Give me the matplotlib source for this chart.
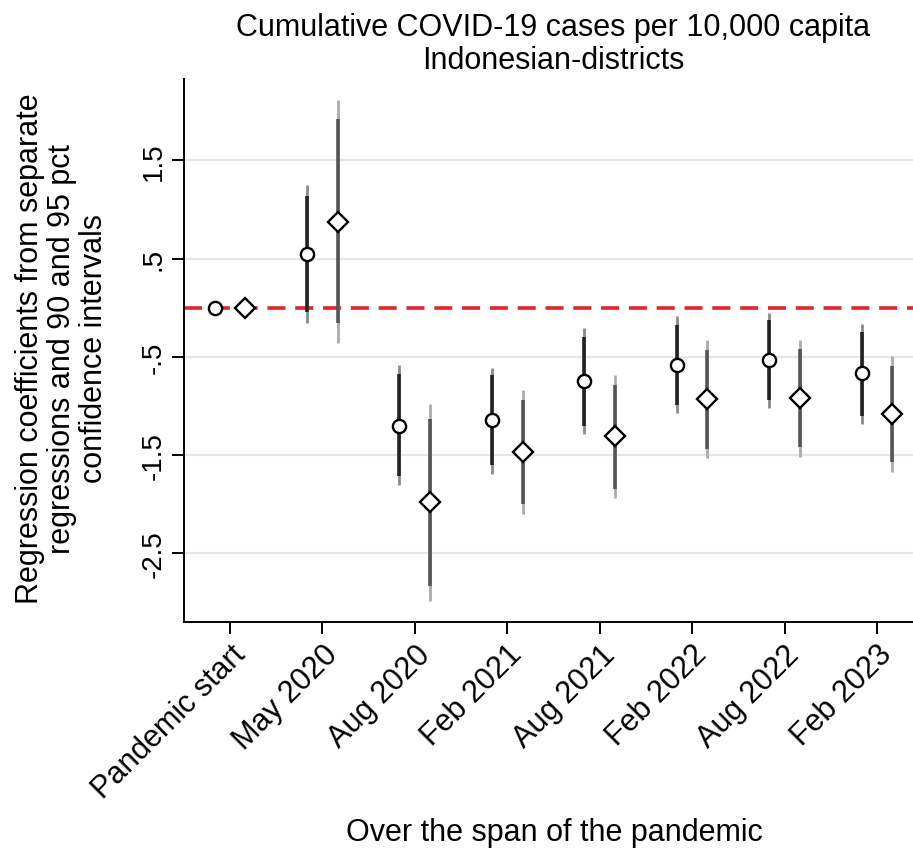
import numpy as np
import matplotlib.pyplot as plt

plt.rcParams['font.family'] = ['Liberation Sans', 'DejaVu Sans']

# --- data ---
periods = ['Pandemic start', 'May 2020', 'Aug 2020', 'Feb 2021',
           'Aug 2021', 'Feb 2022', 'Aug 2022', 'Feb 2023']

# series A (circles)
coef_a = [0.0, 0.55, -1.20, -1.14, -0.75, -0.58, -0.53, -0.67]
a90_lo = [np.nan, -0.04, -1.71, -1.60, -1.20, -0.99, -0.94, -1.10]
a90_hi = [np.nan, 1.14, -0.68, -0.69, -0.30, -0.18, -0.13, -0.25]
a95_lo = [np.nan, -0.16, -1.81, -1.69, -1.29, -1.07, -1.02, -1.18]
a95_hi = [np.nan, 1.25, -0.58, -0.61, -0.21, -0.09, -0.05, -0.17]

# series B (diamonds)
coef_b = [0.0, 0.87, -1.98, -1.47, -1.31, -0.93, -0.92, -1.08]
b90_lo = [np.nan, -0.16, -2.83, -2.00, -1.85, -1.44, -1.42, -1.57]
b90_hi = [np.nan, 1.92, -1.13, -0.94, -0.79, -0.43, -0.42, -0.59]
b95_lo = [np.nan, -0.36, -2.99, -2.10, -1.94, -1.53, -1.52, -1.67]
b95_hi = [np.nan, 2.11, -0.98, -0.84, -0.69, -0.33, -0.33, -0.49]

yticks = [1.5, 0.5, -0.5, -1.5, -2.5]
ytick_labels = ['1.5', '.5', '-.5', '-1.5', '-2.5']

# --- figure ---
fig = plt.figure(figsize=(9.13, 8.53), dpi=100)
ax = fig.add_axes([0.2015, 0.270, 0.7985, 0.636])

x = np.arange(len(periods))
off = 0.166

for yv in yticks:
    ax.axhline(yv, color='#e6e6e6', lw=1.6, zorder=0)
ax.axhline(0, color='#e3242b', lw=2.6, dashes=(5, 2.7), zorder=1)

# 95 pct (light) then 90 pct (dark) bars
ax.vlines(x - off, a95_lo, a95_hi, color='#8a8a8a', lw=2.0, zorder=2)
ax.vlines(x - off, a90_lo, a90_hi, color='#222222', lw=2.6, zorder=3)
ax.vlines(x + off, b95_lo, b95_hi, color='#ababab', lw=2.0, zorder=2)
ax.vlines(x + off, b90_lo, b90_hi, color='#555555', lw=2.6, zorder=3)

ax.plot(x - off, coef_a, 'o', ms=9.5, mfc='white', mec='black', mew=1.7, zorder=5)
ax.plot(x + off, coef_b, 'D', ms=10.5, mfc='white', mec='black', mew=1.7, zorder=5)

ax.set_xlim(-0.498, 7.39)
ax.set_ylim(-3.196, 2.325)

ax.set_xticks(x)
ax.set_xticklabels(periods, rotation=45, ha='right', rotation_mode='anchor',
                   fontsize=22)
ax.set_yticks(yticks)
ax.set_yticklabels(ytick_labels, rotation=90, va='center', fontsize=20)
ax.tick_params(axis='both', length=8.5, width=1.4, direction='out', pad=4)

for s in ['top', 'right']:
    ax.spines[s].set_visible(False)
for s in ['left', 'bottom']:
    ax.spines[s].set_linewidth(1.4)

fig.text(0.068, 0.591,
         'Regression coefficients from separate\nregressions and 90 and 95 pct\nconfidence intervals',
         rotation=90, ha='center', va='center', fontsize=22, linespacing=1.08)
fig.text(0.607, 0.024, 'Over the span of the pandemic',
         ha='center', va='center', fontsize=22)
fig.text(0.606, 0.948, 'Cumulative COVID-19 cases per 10,000 capita\nIndonesian-districts',
         ha='center', va='center', fontsize=22, linespacing=1.1)

plt.savefig('out.png', dpi=100)
